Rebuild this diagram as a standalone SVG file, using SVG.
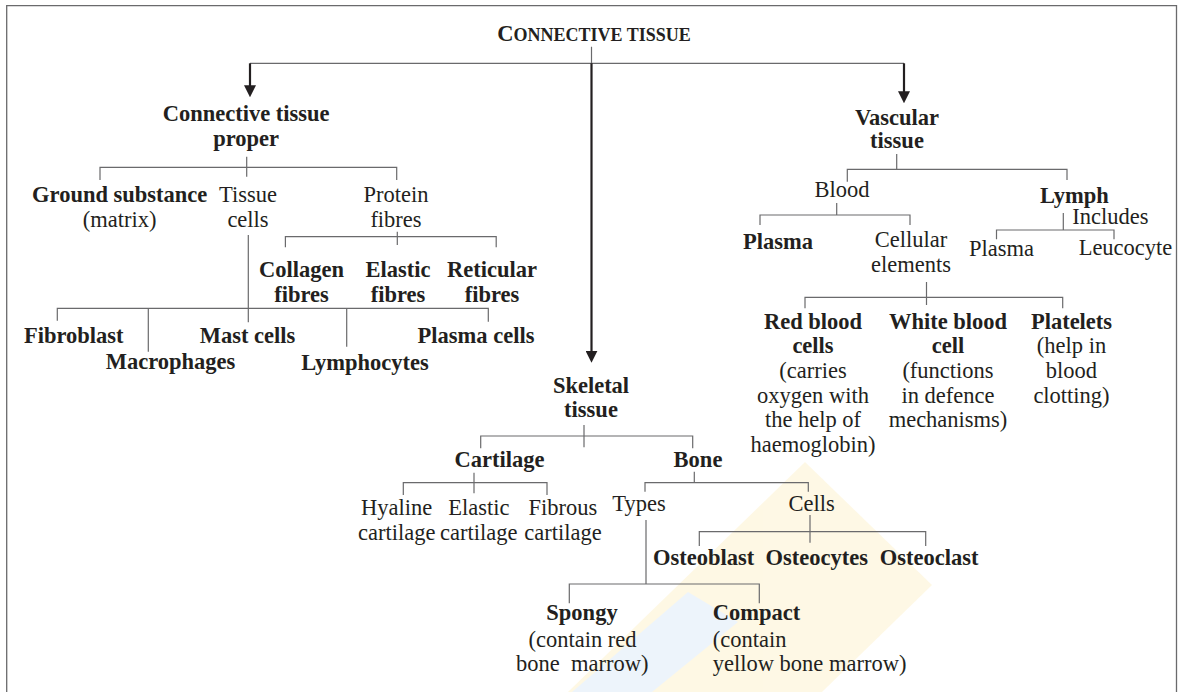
<svg xmlns="http://www.w3.org/2000/svg" width="1182" height="692" viewBox="0 0 1182 692">
<style>
text{font-family:'Liberation Serif','Times New Roman',Tinos,'Nimbus Roman','DejaVu Serif',serif;font-size:22.5px;fill:#231f20;text-anchor:middle}
.b{font-weight:bold}
.s{text-anchor:start}
.thin{fill:none;stroke:#6a6a6c;stroke-width:1.2}
.thick{fill:none;stroke:#231f20;stroke-width:2.2}
</style>
<defs>
<marker id="ah" markerUnits="userSpaceOnUse" markerWidth="12" markerHeight="12" refX="2" refY="6" orient="auto">
<path d="M0,0 L12,6 L0,12 z" fill="#231f20"/>
</marker>
</defs>
<rect width="1182" height="692" fill="#fff"/>
<g id="watermark" opacity="0.3">
<polygon points="805,462 932,585 822,692 568,692" fill="#fde9a8"/>
<polygon points="572,692 688,592 738,622 652,692" fill="#c6def5"/>
</g>
<path d="M6.7,692 V5.7 H1176.5 V692" fill="none" stroke="#6a6a6c" stroke-width="1.3"/>
<g id="connectors">
<path class="thin" d="M591.5,46.7 V63.3 M250,63.3 H904"/>
<path class="thick" d="M250,63.3 V87.3" marker-end="url(#ah)"/>
<path class="thick" d="M904,63.3 V93.3" marker-end="url(#ah)"/>
<path class="thick" d="M591.5,63.3 V352.7" marker-end="url(#ah)"/>
<path class="thin" d="M246.7,156.7 V176.7 M100,180 V167.3 H396.7 V180"/>
<path class="thin" d="M397.3,231.7 V245 M285.4,247.3 V236.7 H496.2 V247.3"/>
<path class="thin" d="M248.3,235 V322.3 M57.3,320.7 V308.3 H488.3 V321.7 M148.3,308.3 V351.7 M346.7,308.3 V346.7"/>
<path class="thin" d="M896.7,154 V169.3 M847.3,181.7 V169.3 H1067 V180"/>
<path class="thin" d="M836.7,203 V215 M760,225 V215 H910 V225"/>
<path class="thin" d="M1063.3,213 V230 M996.5,239.3 V230 H1114 V239.3"/>
<path class="thin" d="M926.5,282 V305 M805,308.3 V297.3 H1062.7 V308.3"/>
<path class="thin" d="M584,425 V447.3 M480.7,448.3 V436 H692.7 V448.3"/>
<path class="thin" d="M474,472.7 V493.3 M403.3,495 V482.7 H547 V495"/>
<path class="thin" d="M694.3,471.7 V482.7 M645,491.7 V482.7 H808.3 V491.7"/>
<path class="thin" d="M810,515 V542.7 M699.3,546 V531.7 H925.7 V546"/>
<path class="thin" d="M646,520 V584 M569.3,603.3 V584 H759.3 V603.3"/>
</g>
<g id="n-root"><text class="b" x="594" y="40.5"><tspan font-size="22.5">C</tspan><tspan font-size="18">ONNECTIVE TISSUE</tspan></text></g>
<g id="n-ctp"><text class="b" x="246.2" y="120.7">Connective tissue</text><text class="b" x="246.2" y="145.7">proper</text></g>
<g id="n-vascular"><text class="b" x="897" y="125">Vascular</text><text class="b" x="897" y="148.3">tissue</text></g>
<g id="n-ground"><text class="b" x="119.7" y="201.7">Ground substance</text><text x="119.7" y="226.7">(matrix)</text></g>
<g id="n-tissuecells"><text x="248" y="201.7">Tissue</text><text x="248" y="226.7">cells</text></g>
<g id="n-protein"><text x="396" y="201.7">Protein</text><text x="396" y="226.7">fibres</text></g>
<g id="n-collagen"><text class="b" x="301.5" y="277.3">Collagen</text><text class="b" x="301.5" y="301.7">fibres</text></g>
<g id="n-elastic"><text class="b" x="398" y="277.3">Elastic</text><text class="b" x="398" y="301.7">fibres</text></g>
<g id="n-reticular"><text class="b" x="492" y="277.3">Reticular</text><text class="b" x="492" y="301.7">fibres</text></g>
<g id="n-fibroblast"><text class="b" x="73.7" y="343.3">Fibroblast</text></g>
<g id="n-macrophages"><text class="b" x="170.5" y="369.3">Macrophages</text></g>
<g id="n-mast"><text class="b" x="247.5" y="343.3">Mast cells</text></g>
<g id="n-lymphocytes"><text class="b" x="365" y="370">Lymphocytes</text></g>
<g id="n-plasmacells"><text class="b" x="476" y="343.3">Plasma cells</text></g>
<g id="n-blood"><text x="842" y="196.7">Blood</text></g>
<g id="n-lymph"><text class="b" x="1074.5" y="203.3">Lymph</text><text class="s" x="1072.3" y="224">Includes</text></g>
<g id="n-plasma-b"><text class="b" x="778" y="249.3">Plasma</text></g>
<g id="n-cellular"><text x="911" y="247.3">Cellular</text><text x="911" y="271.7">elements</text></g>
<g id="n-plasma-l"><text x="1001.5" y="255.5">Plasma</text></g>
<g id="n-leucocyte"><text x="1125.5" y="255">Leucocyte</text></g>
<g id="n-rbc"><text class="b" x="813" y="329">Red blood</text><text class="b" x="813" y="353.3">cells</text><text x="813" y="378">(carries</text><text x="813" y="402.5">oxygen with</text><text x="813" y="427">the help of</text><text x="813" y="451.5">haemoglobin)</text></g>
<g id="n-wbc"><text class="b" x="948" y="329">White blood</text><text class="b" x="948" y="353.3">cell</text><text x="948" y="378">(functions</text><text x="948" y="402.5">in defence</text><text x="948" y="427">mechanisms)</text></g>
<g id="n-platelets"><text class="b" x="1071.5" y="329">Platelets</text><text x="1071.5" y="353.3">(help in</text><text x="1071.5" y="378">blood</text><text x="1071.5" y="402.5">clotting)</text></g>
<g id="n-skeletal"><text class="b" x="591" y="393.3">Skeletal</text><text class="b" x="591" y="417.3">tissue</text></g>
<g id="n-cartilage"><text class="b" x="499.5" y="466.7">Cartilage</text></g>
<g id="n-bone"><text class="b" x="698" y="466.7">Bone</text></g>
<g id="n-hyaline"><text x="396.7" y="515">Hyaline</text><text x="396.7" y="540">cartilage</text></g>
<g id="n-elasticc"><text x="478.8" y="515">Elastic</text><text x="478.8" y="540">cartilage</text></g>
<g id="n-fibrous"><text x="563" y="515">Fibrous</text><text x="563" y="540">cartilage</text></g>
<g id="n-types"><text x="639" y="510.7">Types</text></g>
<g id="n-cells"><text x="811.7" y="510.7">Cells</text></g>
<g id="n-osteoblast"><text class="b" x="703.7" y="565">Osteoblast</text></g>
<g id="n-osteocytes"><text class="b" x="816.7" y="565">Osteocytes</text></g>
<g id="n-osteoclast"><text class="b" x="929.2" y="565">Osteoclast</text></g>
<g id="n-spongy"><text class="b" x="582" y="620">Spongy</text><text x="582.5" y="646.7">(contain red</text><text x="582.2" y="670.7" xml:space="preserve">bone  marrow)</text></g>
<g id="n-compact"><text class="b s" x="712.7" y="620">Compact</text><text class="s" x="712.7" y="646.7">(contain</text><text class="s" x="712.7" y="670.7">yellow bone marrow)</text></g>
</svg>
